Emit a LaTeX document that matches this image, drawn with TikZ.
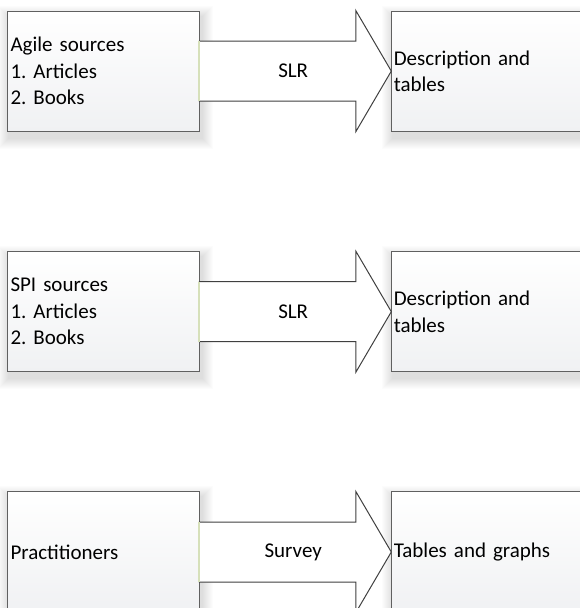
\documentclass[tikz,border=0pt]{standalone}
\usepackage{fontspec}
\setmainfont{Carlito}
\frenchspacing
\usetikzlibrary{calc,backgrounds}

\definecolor{boxline}{RGB}{96,96,96}
\definecolor{arrowline}{RGB}{64,64,64}
\definecolor{boxbottom}{RGB}{240,241,243}
\definecolor{joinedge}{RGB}{214,224,186}

% soft shadow under a box: stacked translucent rectangles
\newcommand\softshade[1]{%
  \foreach \r in {1,...,11}{%
    \fill[black,opacity=0.011]
      ([shift={(-\r+2,-\r+6)}]#1.north west) rectangle
      ([shift={(\r+2,\r+6)}]#1.south east);
  }%
}

\begin{document}
\begin{tikzpicture}[x=1pt,y=-1pt,
  every node/.style={font=\fontsize{21}{26.5}\selectfont, text=black},
  panel/.style={draw=boxline, line width=1pt, top color=white,
    bottom color=boxbottom, anchor=north west, minimum height=120.2pt,
    align=left},
  srcbox/.style={panel, minimum width=192.3pt, text width=186.3pt,
    inner xsep=3pt},
  resbox/.style={panel, minimum width=215pt, text width=211pt,
    inner xsep=2pt},
  blockarrow/.style={draw=arrowline, line width=1pt, fill=white,
    line join=miter},
  seam/.style={draw=joinedge, line width=2pt}
]
\path[use as bounding box] (0,0) rectangle (579,608);

% three rows: sources -> method -> results
\foreach \row/\top/\src/\how/\res in {
  1/10.5/{Agile sources\\1. Articles\\2. Books}/SLR/{Description and\\tables},
  2/251.1/{SPI sources\\1. Articles\\2. Books}/SLR/{Description and\\tables},
  3/491.4/{Practitioners}/Survey/{Tables and graphs}}{
  \node[srcbox] (s\row) at (7,\top) {\src};
  \node[resbox] (r\row) at (391.3,\top) {\res};

  % block arrow from source box to result box
  \draw[blockarrow]
    ([shift={(-1,-30)}]s\row.east) --
    ([shift={(-35.5,-30)}]r\row.west) --
    ([shift={(-35.5,0)}]r\row.north west) --
    (r\row.west) --
    ([shift={(-35.5,0)}]r\row.south west) --
    ([shift={(-35.5,30)}]r\row.west) --
    ([shift={(-1,30)}]s\row.east) -- cycle;
  \draw[seam] ([shift={(-1,-30)}]s\row.east) -- ([shift={(-1,30)}]s\row.east);

  \node[xshift=-2.6pt] (m\row) at ($(s\row.east)!0.5!(r\row.west)$) {\how};

  \begin{scope}[on background layer]
    \softshade{s\row}
    \softshade{r\row}
  \end{scope}
}
\end{tikzpicture}
\end{document}
